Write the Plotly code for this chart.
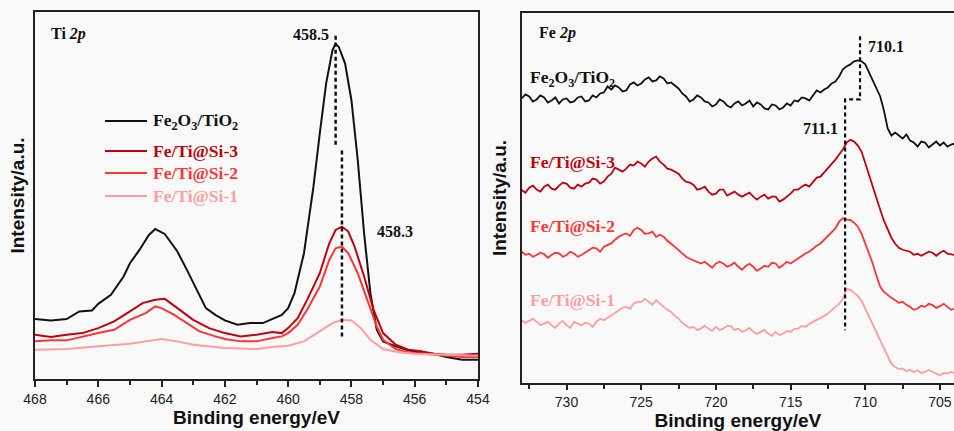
import plotly.graph_objects as go

# ---------------- data: Ti 2p (left) ----------------
ti_black_x = [468, 467.5, 467, 466.6, 466.2, 466, 465.6, 465.2, 465, 464.7, 464.4, 464.2, 463.9, 463.5, 463.2,
              462.9, 462.6, 462.3, 462, 461.6, 461.2, 460.8, 460.5, 460.2, 460, 459.8, 459.5, 459.2, 459,
              458.8, 458.6, 458.5, 458.4, 458.2, 458, 457.8, 457.6, 457.4, 457.2, 457, 456.6, 456.2, 455.8,
              455.4, 455, 454.5, 454]
ti_black_y = [60, 58.7, 60, 67.7, 68.7, 75.3, 84.3, 102.7, 116, 129.3, 144.3, 150.3, 145.3, 127.7, 109.3,
              89.3, 71, 64.3, 58.7, 54.3, 56, 56, 60, 64.3, 71, 86, 126, 192.7, 246,
              296, 329.3, 336, 332.7, 316, 279.3, 219.3, 146, 86, 49.3, 37.7, 32.7, 28.7, 26,
              25.3, 22, 19.3, 19.3]

ti_si3_x = [468, 467.5, 467, 466.5, 466, 465.5, 465, 464.6, 464.2, 463.9, 463.5, 463, 462.5, 462, 461.5,
            461, 460.5, 460.2, 460, 459.7, 459.4, 459, 458.7, 458.5, 458.3, 458.1, 457.9, 457.6, 457.3,
            457, 456.6, 456.2, 455.8, 455.4, 455, 454.5, 454]
ti_si3_y = [44.3, 42, 44.3, 46, 51, 57.7, 67.7, 76, 79.3, 80.3, 71, 59.3, 51, 46, 42.7,
            44.3, 47, 46, 51, 61, 79.3, 106, 136, 149.3, 152.7, 147.7, 132.7, 102.7, 69.3,
            46, 34.3, 29.3, 27.7, 25.3, 24.3, 24.3, 25.3]

ti_si2_x = [468, 467.5, 467, 466.5, 466, 465.5, 465, 464.5, 464.2, 464, 463.6, 463.2, 462.8, 462.3, 462,
            461.5, 461, 460.5, 460.2, 460, 459.7, 459.4, 459, 458.7, 458.5, 458.3, 458.1, 457.8, 457.5,
            457.2, 457, 456.6, 456.2, 455.8, 455.4, 455, 454.5, 454]
ti_si2_y = [37.7, 38.7, 38.7, 42.7, 46, 49.3, 59.3, 66, 72.7, 71, 64.3, 56, 47.7, 42.7, 40,
            37.7, 37.7, 41, 42.7, 46, 54.3, 69.3, 92.7, 119.3, 131, 132.7, 126, 106, 79.3,
            52.7, 39.3, 30, 26.7, 25.3, 24.3, 23.3, 22, 22]

ti_si1_x = [468, 467, 466, 465, 464.5, 464, 463.5, 463, 462, 461, 460.5, 460, 459.5, 459, 458.6, 458.3,
            458, 457.7, 457.4, 457, 456.5, 456, 455, 454]
ti_si1_y = [29.3, 30, 32.7, 35.3, 37.7, 40, 37.7, 34.3, 31, 30, 32, 33.3, 37.7, 47.7, 56, 59.3,
            58.7, 51, 39.3, 30, 26.7, 25.3, 24.3, 23.3]

ti_ticks = [468, 466, 464, 462, 460, 458, 456, 454]
ti_peaks = [458.5, 458.3]

# ---------------- data: Fe 2p (right) ----------------
# binding energies 733 -> 704 eV in 0.25 eV steps (4 readings per 1 eV row)
fe_x = [733 - 0.25 * i for i in range(117)]

fe_black_y = [284, 288, 286, 281,
              283, 287, 285, 280,
              282, 285, 279, 283,
              284, 280, 281, 285,
              286, 281, 282, 287,
              285, 289, 290, 296,
              293, 297, 295, 291,
              292, 298, 300, 297,
              299, 303, 305, 301,
              302, 306, 304, 299,
              300, 297, 294, 289,
              286, 281, 283, 287,
              285, 281, 280, 276,
              278, 283, 281, 277,
              275, 279, 281, 277,
              279, 282, 276, 280,
              278, 274, 273, 278,
              277, 273, 275, 279,
              277, 282, 281, 285,
              284, 282, 287, 292,
              290, 293, 295, 299,
              301, 306, 313, 316,
              318, 321, 322, 321,
              318, 310, 303, 294,
              286, 272, 254, 247,
              250, 247, 244, 248,
              242, 240, 236, 241,
              240, 235, 238, 241,
              237, 240, 236, 238,
              239]

fe_si3_y = [192.7, 190, 195, 197,
            193, 191, 196, 198,
            194, 193, 197, 200,
            199, 195, 194, 198,
            196, 199, 200, 204,
            203, 199, 201, 206,
            209, 215, 213, 211,
            214, 218, 217, 221,
            219, 216, 221, 224,
            226, 221, 218, 214,
            213, 211, 209, 204,
            201, 200, 198, 193,
            194, 196, 191, 188,
            189, 193, 193, 187,
            189, 191, 188, 186,
            188, 190, 186, 183,
            186, 188, 184, 186,
            186, 181, 183, 186,
            189, 193, 193, 196,
            198, 196, 201, 205,
            206, 210, 214, 218,
            223, 228, 233, 240,
            242.7, 241, 237, 231,
            219, 208, 196, 184,
            173, 162, 153, 145,
            139, 135, 133, 132,
            131, 128, 129, 127,
            129, 131, 130, 127,
            130, 132, 129, 128,
            127.7]

fe_si2_y = [131, 128, 129, 126,
            127.7, 130, 128.7, 125,
            127.7, 130, 129.3, 126,
            127.7, 131, 129.3, 126,
            127.7, 130, 132, 135,
            134.3, 131, 136, 138,
            139.3, 143, 146, 148,
            149.3, 147, 152.7, 155,
            152.7, 149, 149.3, 151,
            146, 148, 146, 142,
            139.3, 136, 132.7, 129,
            126, 124, 122.7, 121,
            119.3, 121, 117.7, 115,
            119.3, 121, 119.3, 116,
            117.7, 120, 116, 113,
            116.7, 119, 116, 112,
            114.3, 117, 116, 120,
            119.3, 115, 117.7, 121,
            119.3, 122, 124.3, 127,
            129.3, 131, 134.3, 137,
            139.3, 143, 146, 150,
            154.3, 161, 164.3, 163,
            162.7, 160, 156, 149,
            139.3, 130, 119.3, 107,
            96, 91, 87.7, 85,
            82.7, 80, 81, 78,
            76, 73, 74.3, 77,
            76, 79, 77.7, 75,
            76.7, 79, 76, 73,
            74.3]

fe_si1_y = [62.7, 60, 62, 64,
            61, 58, 59.3, 61,
            57.7, 55, 59.3, 62,
            57.7, 55, 61, 59,
            57.7, 60, 59.3, 56,
            61, 64, 62.7, 65,
            67.7, 70, 72.7, 75,
            76, 74, 79.3, 81,
            81, 84, 81, 78,
            82.7, 79, 76, 73,
            71, 67, 64.3, 60,
            57.7, 55, 56, 53,
            54.3, 57, 54.3, 52,
            56, 53, 54.3, 57,
            56.7, 53, 54.3, 51,
            52.7, 55, 51, 49,
            51, 53, 49.3, 47,
            51, 48, 49.3, 52,
            51, 54, 54.3, 57,
            56, 59, 61, 63,
            64.3, 67, 69.3, 73,
            76, 79, 84, 94,
            93, 90, 87, 82,
            74, 66, 58, 50,
            43, 35, 26, 19,
            16, 14, 14.3, 12,
            13.3, 11, 12.7, 10,
            11, 13, 11, 9,
            7.7, 10, 9.3, 11,
            10]

fe_ticks = [730, 725, 720, 715, 710, 705]
fe_peaks = [710.35, 711.35]
fe_peak_labels = ["710.1", "711.1"]

series_names = ["Fe<sub>2</sub>O<sub>3</sub>/TiO<sub>2</sub>", "Fe/Ti@Si-3", "Fe/Ti@Si-2", "Fe/Ti@Si-1"]
colors = ["#111111", "#c0000c", "#ff3535", "#ff9da0"]

SERIF = "Liberation Serif, Times New Roman, serif"
SANS = "Liberation Sans, Arial, sans-serif"
DASH = "4px,3px"

fig = go.Figure()

ti_sets = [(ti_black_x, ti_black_y), (ti_si3_x, ti_si3_y), (ti_si2_x, ti_si2_y), (ti_si1_x, ti_si1_y)]
for (xs, ys), name, c in zip(ti_sets, series_names, colors):
    fig.add_trace(go.Scatter(x=xs, y=ys, mode="lines", line=dict(color=c, width=2),
                             name=name, xaxis="x", yaxis="y", showlegend=False))

fe_sets = [fe_black_y, fe_si3_y, fe_si2_y, fe_si1_y]
for ys, name, c in zip(fe_sets, series_names, colors):
    fig.add_trace(go.Scatter(x=fe_x, y=ys, mode="lines", line=dict(color=c, width=1.8),
                             name=name, xaxis="x2", yaxis="y2", showlegend=False))

# dashed peak guides (left)
fig.add_trace(go.Scatter(x=[ti_peaks[0], ti_peaks[0]], y=[344, 232], mode="lines",
                         line=dict(color="#111111", width=2.5, dash=DASH), showlegend=False,
                         xaxis="x", yaxis="y"))
fig.add_trace(go.Scatter(x=[ti_peaks[1], ti_peaks[1]], y=[229, 41], mode="lines",
                         line=dict(color="#111111", width=2.5, dash=DASH), showlegend=False,
                         xaxis="x", yaxis="y"))
# dashed peak guides (right)
fig.add_trace(go.Scatter(x=[fe_peaks[0], fe_peaks[0], fe_peaks[1], fe_peaks[1]],
                         y=[346, 283, 283, 52.7], mode="lines",
                         line=dict(color="#111111", width=2.2, dash=DASH), showlegend=False,
                         xaxis="x2", yaxis="y2"))

axis_common = dict(showgrid=False, zeroline=False, showline=True, linecolor="#222222", linewidth=1.5,
                   mirror=True, tickcolor="#222222", tickwidth=1.5, automargin=False,
                   tickfont=dict(family=SANS, size=14, color="#222222"),
                   title_font=dict(family=SANS, size=19, color="#111111"))

fig.update_layout(
    width=954, height=431,
    margin=dict(l=0, r=0, t=0, b=0),
    paper_bgcolor="#f9f9f9", plot_bgcolor="#f9f9f9",
    xaxis=dict(domain=[35 / 954, 478 / 954], range=[468, 454], tickvals=ti_ticks, ticks="outside", ticklen=6,
               minor=dict(dtick=1, ticks="outside", ticklen=4, tickcolor="#222222", showgrid=False),
               title=dict(text="<b>Binding energy/eV</b>", standoff=2), **axis_common),
    yaxis=dict(domain=[1 - 379 / 431, 1 - 12 / 431], range=[0, 367.7], showticklabels=False,
               ticks="", anchor="x",
               title=dict(text="<b>Intensity/a.u.</b>", standoff=4), **axis_common),
    xaxis2=dict(domain=[521.7 / 954, 1.0], range=[733.0, 704.06], tickvals=fe_ticks, ticks="outside", ticklen=5,
                minor=dict(dtick=2.5, ticks="outside", ticklen=4, tickcolor="#222222", showgrid=False),
                anchor="y2",
                title=dict(text="<b>Binding energy/eV</b>", standoff=2), **axis_common),
    yaxis2=dict(domain=[1 - 383 / 431, 1 - 13 / 431], range=[0, 369.3], showticklabels=False,
                ticks="", anchor="x2",
                title=dict(text="<b>Intensity/a.u.</b>", standoff=8), **axis_common),
    showlegend=False,
)

# key for the Ti 2p panel (sample line + coloured label per series)
key_rows_px = [121, 151, 173, 196]
shapes = []
ann = []
for name, c, row in zip(series_names, colors, key_rows_px):
    yp = 1 - row / 431
    shapes.append(dict(type="line", xref="paper", yref="paper", x0=105 / 954, x1=147 / 954,
                       y0=yp, y1=yp, line=dict(color=c, width=2)))
    ann.append(dict(x=151 / 954, y=yp, xref="paper", yref="paper", text=f"<b>{name}</b>", showarrow=False,
                    xanchor="left", yanchor="middle", font=dict(family=SERIF, size=17.5, color=c)))

ann.append(dict(x=467.55, y=346, xref="x", yref="y", text="<b>Ti <i>2p</i></b>", showarrow=False,
                xanchor="left", font=dict(family=SERIF, size=16, color="#111111")))
ann.append(dict(x=ti_peaks[0] + 0.15, y=345, xref="x", yref="y", text=f"<b>{ti_peaks[0]}</b>", showarrow=False,
                xanchor="right", font=dict(family=SERIF, size=16, color="#111111")))
ann.append(dict(x=457.25, y=147.7, xref="x", yref="y", text=f"<b>{ti_peaks[1]}</b>", showarrow=False,
                xanchor="left", font=dict(family=SERIF, size=16, color="#111111")))
ann.append(dict(x=731.95, y=349, xref="x2", yref="y2", text="<b>Fe <i>2p</i></b>", showarrow=False,
                xanchor="left", font=dict(family=SERIF, size=16, color="#111111")))
ann.append(dict(x=709.95, y=336, xref="x2", yref="y2", text=f"<b>{fe_peak_labels[0]}</b>", showarrow=False,
                xanchor="left", font=dict(family=SERIF, size=16, color="#111111")))
ann.append(dict(x=711.7, y=254, xref="x2", yref="y2", text=f"<b>{fe_peak_labels[1]}</b>", showarrow=False,
                xanchor="right", font=dict(family=SERIF, size=16, color="#111111")))
label_y = [304, 221, 156.7, 82.7]
for name, c, ly in zip(series_names, colors, label_y):
    ann.append(dict(x=732.6, y=ly, xref="x2", yref="y2", text=f"<b>{name}</b>", showarrow=False,
                    xanchor="left", font=dict(family=SERIF, size=17.5, color=c)))
fig.update_layout(annotations=ann, shapes=shapes)

fig.write_html("out.html")
